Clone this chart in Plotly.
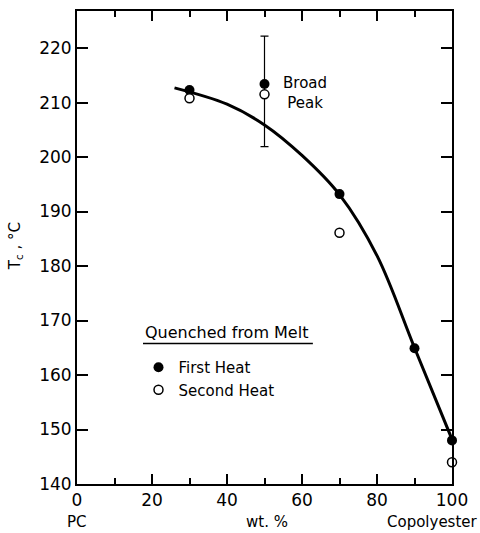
import plotly.graph_objects as go

# Data
composition = [30, 50, 70, 90, 100]
first_heat = [212.3, 213.4, 193.2, 164.9, 148.0]
second_heat = [210.8, 211.5, 186.1, None, 144.0]

# broad peak range at 50 wt.%
peak_x = [50]
peak_y = [213.4]
peak_plus = [8.8]
peak_minus = [11.5]

# hand-drawn trend curve
curve_x = [26, 40, 50, 60, 70, 80, 90, 100]
curve_y = [212.7, 209.7, 205.9, 200.3, 193.1, 181.9, 165.0, 148.2]

x_ticks = [0, 20, 40, 60, 80, 100]
y_ticks = [140, 150, 160, 170, 180, 190, 200, 210, 220]

FONT = "DejaVu Sans"

fig = go.Figure()

fig.add_trace(go.Scatter(
    x=curve_x, y=curve_y, mode="lines", line=dict(color="black", width=3, shape="spline", smoothing=1),
    showlegend=False, hoverinfo="skip", cliponaxis=False))

fig.add_trace(go.Scatter(
    x=peak_x, y=peak_y, mode="markers", marker=dict(size=1, color="rgba(0,0,0,0)"),
    error_y=dict(type="data", symmetric=False, array=peak_plus, arrayminus=peak_minus,
                 color="black", thickness=1.2, width=4),
    showlegend=False, hoverinfo="skip"))

fig.add_trace(go.Scatter(
    x=composition, y=first_heat, mode="markers", name="First Heat", cliponaxis=False,
    marker=dict(symbol="circle", size=10, color="black")))

fig.add_trace(go.Scatter(
    x=composition, y=second_heat, mode="markers", name="Second Heat", cliponaxis=False,
    marker=dict(symbol="circle", size=9, color="white", line=dict(color="black", width=1.5))))

axis_common = dict(
    showline=True, linecolor="black", linewidth=2, mirror="allticks",
    ticks="inside", tickcolor="black", tickwidth=1.5, showgrid=False, zeroline=False,
    tickfont=dict(family=FONT, size=17, color="black"),
)

fig.update_xaxes(range=[0, 100], tickvals=x_ticks, ticklen=10,
                 minor=dict(dtick=10, ticks="inside", ticklen=6, tickcolor="black", tickwidth=1.5, showgrid=False),
                 **axis_common)
fig.update_yaxes(range=[140, 226.8], tickvals=y_ticks, ticklen=11, **axis_common)

annotations = [
    dict(x=60.8, y=211.8, xref="x", yref="y", text="Broad<br>Peak", showarrow=False,
         font=dict(family=FONT, size=15, color="black"), align="center"),
    dict(x=-0.165, y=0.503, xref="paper", yref="paper", text="T<sub>c</sub> , °C", textangle=-90,
         xanchor="center", yanchor="middle",
         showarrow=False, font=dict(family=FONT, size=15, color="black")),
    dict(x=0.0, y=-0.08, xref="paper", yref="paper", text="PC", showarrow=False,
         xanchor="center", yanchor="middle", font=dict(family=FONT, size=15, color="black")),
    dict(x=0.507, y=-0.08, xref="paper", yref="paper", text="wt. %", showarrow=False,
         xanchor="center", yanchor="middle", font=dict(family=FONT, size=15, color="black")),
    dict(x=0.947, y=-0.08, xref="paper", yref="paper", text="Copolyester", showarrow=False,
         xanchor="center", yanchor="middle", font=dict(family=FONT, size=15, color="black")),
    dict(x=0.176, y=0.321, xref="paper", yref="paper", text="Quenched from Melt", showarrow=False,
         xanchor="left", yanchor="middle", font=dict(family=FONT, size=16, color="black")),
]

shapes = [
    dict(type="line", xref="paper", yref="paper", x0=0.176, x1=0.629, y0=0.297, y1=0.297,
         line=dict(color="black", width=1.5)),
]

fig.update_layout(
    width=480, height=533,
    margin=dict(l=77, r=28, t=9, b=49),
    paper_bgcolor="white", plot_bgcolor="white",
    font=dict(family=FONT, size=15, color="black"),
    annotations=annotations, shapes=shapes,
    legend=dict(x=0.164, y=0.281, xanchor="left", yanchor="top",
                font=dict(family=FONT, size=15, color="black"),
                bgcolor="rgba(0,0,0,0)", itemwidth=30, tracegroupgap=0),
)

fig.write_html("out.html")
